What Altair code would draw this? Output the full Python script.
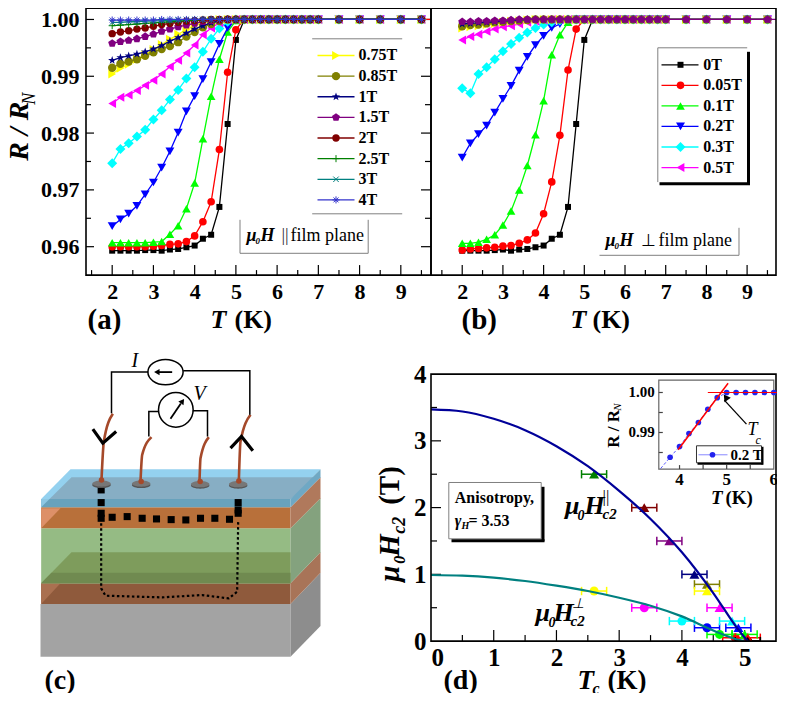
import altair as alt
import pandas as pd

FONT = "Liberation Serif"
W, H = 345, 267
OA = (90.5, 8.3); OB = (435.5, 8.3); OC = (90.5, 374.3); OD = (435.5, 374.3)

# ---------- data panels (a), (b) ----------
T_GRID = [2.0, 2.2, 2.4, 2.6, 2.8, 3.0, 3.2, 3.4, 3.6, 3.8, 4.0, 4.2, 4.4, 4.6, 4.8, 5.0, 5.2, 5.4, 5.6, 5.8,
          6.0, 6.2, 6.4, 6.6, 6.8, 7.0, 7.5, 8.0, 8.5, 9.0, 9.5]

A_0 = [.9593, .9593, .9593, .9593, .9594, .9594, .9593, .9595, .9596, .9599, .9602, .9614, .9621, .9670, .9816, .9964, .9999]
A_005 = [.9600, .9600, .9600, .9600, .9600, .9601, .9602, .9604, .9605, .9609, .9619, .9644, .9679, .9771, .9907, .9982]
A_01 = [.9607, .9607, .9607, .9607, .9607, .9608, .9609, .9622, .9637, .9667, .9712, .9790, .9865, .9930, .9978, .9998]
A_02 = [.9636, .9648, .9658, .9672, .9692, .9713, .9739, .9768, .9801, .9838, .9865, .9895, .9925, .9957, .9985, .9999]
A_03 = [.9747, .9772, .9782, .9794, .9806, .9824, .9840, .9859, .9876, .9896, .9916, .9943, .9966, .9984, .9996]
A_05 = [.9852, .9863, .9867, .9875, .9884, .9893, .9904, .9917, .9928, .9941, .9955, .9973, .9985, .9994, .9999]
A_075 = [.9904, .9914, .9921, .9930, .9938, .9947, .9956, .9965, .9974, .9982, .9989, .9994, .9998]
A_085 = [.9915, .9922, .9926, .9930, .9936, .9942, .9948, .9953, .9960, .9970, .9978, .9986, .9992, .9997]
A_1 = [.9928, .9933, .9936, .9939, .9943, .9948, .9954, .9962, .9968, .9976, .9983, .9989, .9994, .9998]
A_15 = [.9958, .9961, .9963, .9966, .9970, .9974, .9979, .9983, .9987, .9990, .9993, .9996, .9998, .9999]
A_2 = [.9975, .9978, .9980, .9983, .9985, .9988, .9991, .9993, .9995, .9997, .9998, .9999]
A_25 = [.9989, .9990, .9991, .9992, .9993, .9994, .9995, .9996, .9997, .9998, .9999]
A_3 = [.9995, .9995, .9996, .9996, .9997, .9997, .9998, .9998, .9999]
A_4 = [.9999, .9999, .9999, .9999, .9999, .9999]

B_0 = [.9593, .9593, .9593, .9593, .9594, .9595, .9593, .9595, .9596, .9599, .9602, .9614, .9621, .9670, .9816, .9964, .9999]
B_005 = [.9594, .9596, .9597, .9598, .9599, .9601, .9602, .9606, .9612, .9624, .9658, .9714, .9796, .9911, .9983]
B_01 = [.9606, .9606, .9608, .9613, .9621, .9638, .9663, .9700, .9743, .9797, .9857, .9938, .9973, .9995]
B_02 = [.9757, .9782, .9798, .9813, .9836, .9860, .9883, .9910, .9934, .9955, .9971, .9985, .9992, .9998]
B_03 = [.9879, .9870, .9904, .9916, .9930, .9944, .9957, .9968, .9977, .9985, .9991, .9995, .9998]
B_05 = [.9964, .9970, .9974, .9979, .9983, .9987, .9989, .9992, .9995, .9997, .9999]
B_075 = [.9985, .9987, .9989, .9991, .9993, .9995, .9997, .9998, .9999]
B_085 = [.9988, .9990, .9991, .9993, .9995, .9996, .9997, .9998, .9999]
B_1 = [.9992, .9993, .9994, .9995, .9996, .9997, .9998, .9999]
B_15 = [.9996, .9996, .9997, .9997, .9998, .9998, .9999]

STAR = "M0,-1.1L.26,-.36L1.05,-.34L.42,.14L.65,.89L0,.44L-.65,.89L-.42,.14L-1.05,-.34L-.26,-.36Z"
PENT = "M0,-1L.95,-.31L.59,.81L-.59,.81L-.95,-.31Z"
PLUS = "M-1,0L1,0M0,-1L0,1"
XSYM = "M-1,-1L1,1M-1,1L1,-1"
ASTR = "M-1,0L1,0M0,-1L0,1M-.7,-.7L.7,.7M-.7,.7L.7,-.7"

STYLES = {
    "0T": ("#000000", "square", 36, True),
    "0.05T": ("#ff0000", "circle", 58, True),
    "0.1T": ("#00ff00", "triangle-up", 75, True),
    "0.2T": ("#0000ff", "triangle-down", 80, True),
    "0.3T": ("#00ffff", "diamond", 100, True),
    "0.5T": ("#ff00ff", "triangle-left", 80, True),
    "0.75T": ("#ffff00", "triangle-right", 80, True),
    "0.85T": ("#808000", "circle", 70, True),
    "1T": ("#000080", STAR, 60, True),
    "1.5T": ("#800080", PENT, 70, True),
    "2T": ("#800000", "circle", 55, True),
    "2.5T": ("#008000", PLUS, 50, False),
    "3T": ("#008080", XSYM, 30, False),
    "4T": ("#3333cc", ASTR, 50, False),
}
A_SERIES = {"0T": A_0, "0.05T": A_005, "0.1T": A_01, "0.2T": A_02, "0.3T": A_03, "0.5T": A_05, "0.75T": A_075,
            "0.85T": A_085, "1T": A_1, "1.5T": A_15, "2T": A_2, "2.5T": A_25, "3T": A_3, "4T": A_4}
B_SERIES = {"0T": B_0, "0.05T": B_005, "0.1T": B_01, "0.2T": B_02, "0.3T": B_03, "0.5T": B_05, "0.75T": B_075,
            "0.85T": B_085, "1T": B_1, "1.5T": B_15}

# ---------- data panel (d) ----------
PAR_T = [2.6, 3.4, 3.8, 4.2, 4.4, 4.4, 4.6, 4.8, 4.9, 5.0, 5.05, 5.05]
PAR_H = [2.5, 2.0, 1.5, 1.0, 0.85, 0.75, 0.5, 0.3, 0.2, 0.1, 0.05, 0.0]
PAR_C = ["#008000", "#800000", "#800080", "#000080", "#808000", "#ffff00", "#ff00ff", "#00ffff", "#0000ff", "#00ff00", "#ff0000", "#000000"]
PERP_T = [2.6, 3.4, 4.0, 4.4, 4.6, 4.85, 5.05]
PERP_H = [0.75, 0.5, 0.3, 0.2, 0.1, 0.05, 0.0]
PERP_C = ["#ffff00", "#ff00ff", "#00ffff", "#0000ff", "#00ff00", "#ff0000", "#000000"]
CURVE_PAR_T = [0, .5, 1, 1.5, 2, 2.5, 3, 3.5, 4, 4.5, 4.9, 5.05]
CURVE_PAR_H = [3.47, 3.44, 3.33, 3.16, 2.92, 2.62, 2.25, 1.83, 1.33, .72, .17, 0]
CURVE_PERP_T = [0, .5, 1, 1.5, 2, 2.5, 3, 3.5, 4, 4.5, 4.9, 5.0]
CURVE_PERP_H = [.99, .98, .95, .90, .83, .75, .65, .53, .37, .16, .02, 0]
ERR = 0.2

INSET_T = [3.6, 3.8, 4.0, 4.2, 4.4, 4.6, 4.8, 5.0, 5.2, 5.4, 5.6, 5.8, 6.0]
INSET_R = [.9810, .9838, .9865, .98975, .9925, .9958, .9987, 1.0, 1.0, 1.0, 1.0, 1.0, 1.0]
FIT_T = [3.97, 5.03]
FIT_R = [.98567, 1.00233]
FLAT_T = [4.6, 6.2]
FLAT_R = [1.0, 1.0]
ARROW_T = [4.95, 5.42]
ARROW_R = [.9981, .9921]
INSET_XT = [4, 5, 6]
INSET_YT = [.99, 1.0]
INSET_YL = ["0.99", "1.00"]

ONE = pd.DataFrame({"k": [0]})
AXIS_OF = {}


def XE(f, s):
    return alt.X(f, scale=s, axis=AXIS_OF.get(id(s)))


def YE(f, s):
    return alt.Y(f, scale=s, axis=AXIS_OF.get(id(s)))


def text(s, X, Y, O, size=16, bold=True, italic=False, align="left", angle=0, color="#000"):
    kw = dict(font=FONT, fontSize=size, align=align, baseline="middle", color=color, angle=angle)
    if bold:
        kw["fontWeight"] = "bold"
    if italic:
        kw["fontStyle"] = "italic"
    return alt.Chart(pd.DataFrame({"t": [s]})).mark_text(**kw).encode(
        x=alt.value(X - O[0]), y=alt.value(Y - O[1]), text="t:N")


def pix_rule(x1, y1, x2, y2, O, color="#808080", w=1.0):
    return alt.Chart(ONE).mark_rule(color=color, strokeWidth=w).encode(
        x=alt.value(x1 - O[0]), x2=alt.value(x2 - O[0]), y=alt.value(y1 - O[1]), y2=alt.value(y2 - O[1]))


def pix_rect(x1, y1, x2, y2, O, stroke=None, fill=None, w=1.0):
    kw = {}
    if stroke:
        kw.update(stroke=stroke, strokeWidth=w)
    kw.update(fill=fill if fill else "transparent")
    return alt.Chart(ONE).mark_rect(**kw).encode(
        x=alt.value(x1 - O[0]), x2=alt.value(x2 - O[0]), y=alt.value(y1 - O[1]), y2=alt.value(y2 - O[1]))


def pix_symbol(x, y, O, color, shape, size, filled=True, w=1.0):
    return alt.Chart(ONE).mark_point(shape=shape, filled=filled, color=color, size=size, opacity=1, strokeWidth=w).encode(
        x=alt.value(x - O[0]), y=alt.value(y - O[1]))


def vticks(values, length, scale, top=H, color="#000"):
    return alt.Chart(pd.DataFrame({"v": values})).mark_rule(color=color, strokeWidth=1.2).encode(
        x=XE("v:Q", scale), y=alt.value(top), y2=alt.value(top - length))


def hticks(values, x0, length, scale, color="#000"):
    return alt.Chart(pd.DataFrame({"v": values})).mark_rule(color=color, strokeWidth=1.2).encode(
        y=YE("v:Q", scale), x=alt.value(x0), x2=alt.value(x0 + length))


def box():
    return alt.Chart(ONE).mark_rect(fill="transparent", stroke="#000", strokeWidth=1.6).encode(
        x=alt.value(0), x2=alt.value(W), y=alt.value(0), y2=alt.value(H))


def rt_panel(series, xdom, extend, show_y, right_ticks, left_ticks):
    xs = alt.Scale(domain=xdom, nice=False, zero=False)
    ys = alt.Scale(domain=[.955, 1.002], nice=False, zero=False)
    AXIS_OF[id(xs)] = alt.Axis(values=[2, 3, 4, 5, 6, 7, 8, 9], ticks=False, domain=False, grid=False, title=None,
                               labelFont=FONT, labelFontWeight="bold", labelFontSize=22, labelPadding=6,
                               labelColor="#000", format="d")
    AXIS_OF[id(ys)] = alt.Axis(values=[.96, .97, .98, .99, 1.0], ticks=False, domain=False, grid=False, title=None,
                               labelFont=FONT, labelFontWeight="bold", labelFontSize=22, labelPadding=7,
                               labelColor="#000", format=".2f") if show_y else None
    layers = [vticks([2, 3, 4, 5, 6, 7, 8, 9], 10, xs), vticks([1.5, 2.5, 3.5, 4.5, 5.5, 6.5, 7.5, 8.5, 9.5], 5, xs)]
    if left_ticks:
        layers.append(hticks([.96, .97, .98, .99, 1.0], 0, 8, ys))
        layers.append(hticks([.965, .975, .985, .995], 0, 5, ys))
    if right_ticks:
        layers.append(hticks([.96, .97, .98, .99, 1.0], W - 10, 10, ys))
        layers.append(hticks([.965, .975, .985, .995], W - 6, 6, ys))
    for name, vals in series.items():
        color, shape, size, filled = STYLES[name]
        Tv = list(T_GRID)
        Rv = list(vals) + [1.0] * (len(T_GRID) - len(vals))
        ldf = pd.DataFrame({"T": Tv + ([10.0] if name == extend else []), "R": Rv + ([1.0] if name == extend else [])})
        pdf = pd.DataFrame({"T": Tv, "R": Rv})
        layers.append(alt.Chart(ldf).mark_line(color=color, strokeWidth=1.3, clip=True).encode(
            x=XE("T:Q", xs), y=YE("R:Q", ys)))
        layers.append(alt.Chart(pdf).mark_point(shape=shape, filled=filled, color=color, size=size, opacity=1,
                                                strokeWidth=1.0, clip=True).encode(
            x=XE("T:Q", xs), y=YE("R:Q", ys)))
    layers.append(box())
    return layers


# ---------- panel (a) ----------
a_layers = rt_panel(A_SERIES, [1.365, 9.732], "0.05T", True, True, True)
a_layers += [pix_rule(316.7, 39, 406.7, 39, OA), pix_rule(316.7, 214, 406.7, 214, OA)]
A_LEG = ["0.75T", "0.85T", "1T", "1.5T", "2T", "2.5T", "3T", "4T"]
for i, n in enumerate(A_LEG):
    y = 55.7 + i * 20.63
    c_, s, sz, f = STYLES[n]
    a_layers += [pix_rule(322, y, 359, y, OA, color=c_, w=1.3), pix_symbol(340.5, y, OA, c_, s, sz, f),
                 text(n, 363, y, OA, size=16)]
a_layers += [pix_rule(244.5, 220, 244.5, 253.5, OA), pix_rule(244.5, 253.5, 372.7, 253.5, OA),
             pix_rule(372.7, 220, 372.7, 253.5, OA),
             text("μ", 251, 236.5, OA, size=18, italic=True), text("0", 260, 241, OA, size=9, italic=True),
             text("H", 265, 236.5, OA, size=18, italic=True), text("||", 286, 236.5, OA, size=18, bold=False, color="#333"),
             text("film plane", 295, 236.5, OA, size=18, bold=False)]
a_layers += [text("R / R", 24, 161, OA, size=28, italic=True, angle=270),
             text("N", 34, 105, OA, size=18, italic=True, bold=False, angle=270),
             text("(a)", 92, 320, OA, size=29), text("T", 215, 320, OA, size=26, italic=True),
             text("(K)", 239, 320, OA, size=26)]
a = alt.layer(*a_layers).properties(width=W, height=H)

# ---------- panel (b) ----------
b_layers = rt_panel(B_SERIES, [1.233, 9.71], "1.5T", False, False, False)
b_layers += [pix_rule(662.3, 48, 751.7, 48, OB), pix_rule(662.3, 48, 662.3, 182.3, OB),
             pix_rule(753, 52, 753, 185, OB, color="#000", w=3), pix_rule(664, 184, 754.5, 184, OB, color="#000", w=3)]
B_LEG = ["0T", "0.05T", "0.1T", "0.2T", "0.3T", "0.5T"]
for i, n in enumerate(B_LEG):
    y = 65 + i * 20.55
    c_, s, sz, f = STYLES[n]
    b_layers += [pix_rule(666, y, 703, y, OB, color=c_, w=1.3), pix_symbol(685, y, OB, c_, s, sz, f),
                 text(n, 707.7, y, OB, size=16)]
b_layers += [pix_rule(604, 255.5, 743.5, 255.5, OB), pix_rule(743.5, 228, 743.5, 255.5, OB),
             text("μ", 610, 241.5, OB, size=18, italic=True), text("0", 619, 246, OB, size=9, italic=True),
             text("H", 624, 241.5, OB, size=18, italic=True), text("⊥", 646, 241.5, OB, size=17, bold=False),
             text("film plane", 663, 241.5, OB, size=18, bold=False)]
b_layers += [text("(b)", 466, 320, OB, size=29), text("T", 575, 320, OB, size=26, italic=True),
             text("(K)", 597, 320, OB, size=26)]
b = alt.layer(*b_layers).properties(width=W, height=H)

# ---------- panel (c): schematic, in sketch units ----------
SX = alt.Scale(domain=[271.5, 1306.5], nice=False, zero=False)
SY = alt.Scale(domain=[888, 88], nice=False, zero=False)


def pv(color, xs, top, bot):
    return alt.Chart(pd.DataFrame({"x": xs, "a": top, "b": bot})).mark_area(color=color, orient="vertical", opacity=1).encode(
        x=XE("x:Q", SX), y=YE("a:Q", SY), y2="b:Q")


def ph(color, ys, left, right):
    return alt.Chart(pd.DataFrame({"y": ys, "a": left, "b": right})).mark_area(color=color, orient="horizontal", opacity=1).encode(
        y=YE("y:Q", SY), x=XE("a:Q", SX), x2="b:Q")


def ln(xs, ys, color="#000", w=1.5, dash=None, interp="linear", cap="butt"):
    kw = dict(color=color, strokeWidth=w, interpolate=interp, strokeCap=cap)
    if dash:
        kw["strokeDash"] = dash
    return alt.Chart(pd.DataFrame({"x": xs, "y": ys, "i": list(range(len(xs)))})).mark_line(**kw).encode(
        x=XE("x:Q", SX), y=YE("y:Q", SY), order="i:Q")


def sym(xs, ys, color, shape, size, filled=True, w=1.5, angle=None):
    kw = dict(shape=shape, color=color, size=size, filled=filled, strokeWidth=w, opacity=1)
    if angle is not None:
        kw["angle"] = angle
    return alt.Chart(pd.DataFrame({"x": xs, "y": ys})).mark_point(**kw).encode(
        x=XE("x:Q", SX), y=YE("y:Q", SY))


ELL = "M-1,0A1,.72 0 1,0 1,0A1,.72 0 1,0 -1,0Z"
PAD = "M-1,0A1,.34 0 1,0 1,0A1,.34 0 1,0 -1,0Z"
c_layers = [
    pv("#a3a3a3", [135, 885], [777, 777], [935, 935]),
    pv("#8d8d8d", [885, 975], [777, 683], [935, 843]),
    pv("#8f5a3c", [137, 885], [715, 715], [777, 777]),
    ph("#aa7050", [715, 777], [137, 137], [195, 137]),
    pv("#a87458", [885, 975], [715, 622], [777, 683]),
    pv("#95bb84", [137, 885], [550, 550], [715, 715]),
    pv("#84a27e", [885, 975], [550, 460], [715, 622]),
    ph("#7e9c5c", [622, 715], [228, 137], [885, 885]),
    ph("#708a50", [683, 715], [168, 137], [885, 885]),
    pv("#b8703a", [137, 885], [487, 487], [550, 550]),
    ph("#dd9068", [490, 550], [137, 137], [195, 137]),
    pv("#b0795c", [885, 975], [487, 397], [550, 460]),
    ph("#94d1ef", [373, 462], [225, 137], [975, 885]),
    ph("#87aec4", [397, 462], [228, 162], [975, 885]),
    pv("#68a2bc", [137, 885], [462, 462], [487, 487]),
    ph("#8dc8e4", [462, 487], [137, 137], [162, 137]),
    pv("#6fa8c4", [885, 975], [462, 373], [487, 397]),
    ln([317, 317, 330, 500, 620, 700, 725, 728], [535, 730, 752, 757, 750, 760, 740, 530], w=2.2, dash=[2.5, 2.5]),
    sym([317, 317, 317, 317, 728, 728, 728, 350, 395, 440, 483, 527, 571, 615, 658, 702],
        [435, 473, 505, 520, 473, 505, 495, 517, 515, 520, 522, 524, 525, 520, 520, 523], "#000", "square", 50),
    sym([318, 437, 614, 728], [420, 420, 422, 422], "#555555", PAD, 340),
    sym([318, 437, 614, 728], [416, 416, 418, 418], "#777777", PAD, 340),
    ln([352, 325, 318], [207, 290, 405], color="#a5492a", w=2.6, interp="monotone"),
    ln([468, 440, 435], [277, 330, 410], color="#a5492a", w=2.6, interp="monotone"),
    ln([640, 615, 612], [277, 340, 410], color="#a5492a", w=2.6, interp="monotone"),
    ln([765, 735, 730], [210, 290, 410], color="#a5492a", w=2.6, interp="monotone"),
    sym([318, 437, 614, 730], [405, 410, 410, 408], "#a5492a", "circle", 30),
    ln([348, 348, 458], [205, 82, 82]),
    ln([563, 763, 763], [78, 78, 210]),
    ln([490, 460, 460], [200, 200, 275]),
    ln([592, 636, 636], [198, 198, 275]),
    ln([292, 322, 362], [253, 295, 260], w=3.2),
    ln([705, 738, 772], [310, 275, 318], w=3.2),
    sym([510], [82], "#000", ELL, 1240, filled=False, w=1.5),
    sym([541], [195], "#000", "circle", 1200, filled=False, w=1.5),
    ln([530, 490], [82, 82], w=1.8),
    sym([484], [82], "#000", "triangle-left", 40),
    ln([525, 556], [222, 176], w=1.8),
    sym([561], [169], "#000", "triangle-up", 40, angle=35),
    text("I", 136, 361, OC, size=20, bold=False, italic=True),
    text("V", 198, 394, OC, size=20, bold=False, italic=True),
    text("(c)", 49, 681, OC, size=28),
]
c = alt.layer(*c_layers).properties(width=W, height=H)

# ---------- panel (d) ----------
DX = alt.Scale(domain=[0, 5.5], nice=False, zero=False)
DY = alt.Scale(domain=[0, 4], nice=False, zero=False)
AXIS_OF[id(DX)] = alt.Axis(values=[0, 1, 2, 3, 4, 5], ticks=False, domain=False, grid=False, title=None, labelFont=FONT,
                           labelFontWeight="bold", labelFontSize=25, labelPadding=4, labelColor="#000", format="d")
AXIS_OF[id(DY)] = alt.Axis(values=[0, 1, 2, 3, 4], ticks=False, domain=False, grid=False, title=None, labelFont=FONT,
                           labelFontWeight="bold", labelFontSize=25, labelPadding=5, labelColor="#000", format="d")
par = pd.DataFrame({"T": PAR_T, "H": PAR_H, "c": PAR_C})
perp = pd.DataFrame({"T": PERP_T, "H": PERP_H, "c": PERP_C})
for df in (par, perp):
    df["lo"] = df["T"] - ERR
    df["hi"] = df["T"] + ERR
CAP = "M0,-1L0,1"


def d_points(df, shape, size):
    col = alt.Color("c:N", scale=None)
    return [
        alt.Chart(df).mark_rule(strokeWidth=1.5, clip=True).encode(x=XE("lo:Q", DX), x2="hi:Q", y=YE("H:Q", DY), color=col),
        alt.Chart(df).mark_point(shape=CAP, filled=False, size=70, strokeWidth=1.5, opacity=1, clip=True).encode(
            x=XE("lo:Q", DX), y=YE("H:Q", DY), color=col),
        alt.Chart(df).mark_point(shape=CAP, filled=False, size=70, strokeWidth=1.5, opacity=1, clip=True).encode(
            x=XE("hi:Q", DX), y=YE("H:Q", DY), color=col),
        alt.Chart(df).mark_point(shape=shape, filled=True, size=size, opacity=1, clip=True).encode(
            x=XE("T:Q", DX), y=YE("H:Q", DY), color=col),
    ]


main = [vticks([1, 2, 3, 4, 5], 11, DX), vticks([.5, 1.5, 2.5, 3.5, 4.5], 6, DX),
        hticks([1, 2, 3], 0, 10, DY), hticks([.5, 1.5, 2.5, 3.5], 0, 6, DY)]
main += d_points(perp, "circle", 80) + d_points(par, "triangle-up", 100)
main.append(alt.Chart(pd.DataFrame({"T": CURVE_PAR_T, "H": CURVE_PAR_H})).mark_line(
    color="#000099", strokeWidth=2.2, interpolate="monotone", clip=True).encode(x=XE("T:Q", DX), y=YE("H:Q", DY)))
main.append(alt.Chart(pd.DataFrame({"T": CURVE_PERP_T, "H": CURVE_PERP_H})).mark_line(
    color="#008080", strokeWidth=2.2, interpolate="monotone", clip=True).encode(x=XE("T:Q", DX), y=YE("H:Q", DY)))
main.append(box())
main += [
    pix_rect(453.3, 482.7, 545.7, 539, OD, stroke="#808080", fill="#ffffff"),
    pix_rule(547.5, 487, 547.5, 541.5, OD, color="#000", w=3),
    pix_rule(456, 541, 549, 541, OD, color="#000", w=3),
    text("Anisotropy,", 459.3, 498, OD, size=16),
    text("γ", 459.3, 521, OD, size=16, italic=True), text("H", 466, 526, OD, size=10, italic=True),
    text("= 3.53", 473, 521, OD, size=16),
    text("μ", 569.5, 506, OD, size=26, italic=True), text("0", 582, 516, OD, size=14, italic=True),
    text("H", 589, 506, OD, size=26, italic=True), text("c2", 607, 514, OD, size=15, italic=True),
    text("||", 607, 497, OD, size=17, bold=False),
    text("μ", 540, 613, OD, size=26, italic=True), text("0", 553, 623, OD, size=14, italic=True),
    text("H", 558, 613, OD, size=26, italic=True), text("c2", 575, 621, OD, size=15, italic=True),
    text("⊥", 577, 604, OD, size=14, bold=False, italic=True),
    text("(d)", 448, 681, OD, size=28),
    text("T", 582, 681, OD, size=27, italic=True), text("c", 597, 689, OD, size=16, italic=True),
    text("(K)", 612, 681, OD, size=27),
    text("μ", 395, 582, OD, size=29, italic=True, angle=270), text("0", 405, 564, OD, size=16, italic=True, angle=270),
    text("H", 395, 557, OD, size=29, italic=True, angle=270), text("c2", 405, 534, OD, size=18, italic=True, angle=270),
    text("(T)", 395, 505, OD, size=29, angle=270),
]
main_layer = alt.layer(*main)

IL, IR = 663.3 - OD[0], 778.3 - OD[0]
IX = alt.Scale(domain=[3.56, 6.0], range=[IL, IR], nice=False, zero=False)
IY = alt.Scale(domain=[.98085, 1.0031], range=[95, 6], nice=False, zero=False)
inset = [
    pix_rect(663.3, 380.3, 778.3, 469.3, OD, stroke="#666666", w=1.2),
    vticks([4, 4.5, 5, 5.5], 4, IX, top=95, color="#444"),
    hticks([.985, .99, .995, 1.0], IL, 4, IY, color="#444"),
    alt.Chart(pd.DataFrame({"v": INSET_XT})).mark_text(font=FONT, fontWeight="bold", fontSize=17, baseline="middle", color="#000").encode(
        x=XE("v:Q", IX), y=alt.value(106), text="v:N"),
    alt.Chart(pd.DataFrame({"v": INSET_YT, "s": INSET_YL})).mark_text(font=FONT, fontWeight="bold", fontSize=15, align="right", baseline="middle", color="#000").encode(
        y=YE("v:Q", IY), x=alt.value(IL - 4), text="s:N"),
    alt.Chart(pd.DataFrame({"T": INSET_T, "R": INSET_R})).mark_line(
        color="#3333ff", strokeWidth=0.8, strokeDash=[3, 2]).encode(x=XE("T:Q", IX), y=YE("R:Q", IY)),
    alt.Chart(pd.DataFrame({"T": INSET_T[1:], "R": INSET_R[1:]})).mark_point(
        shape="circle", filled=True, color="#2222ee", size=32, opacity=1).encode(x=XE("T:Q", IX), y=YE("R:Q", IY)),
    alt.Chart(pd.DataFrame({"T": FIT_T, "R": FIT_R})).mark_line(color="#ff0000", strokeWidth=1.5).encode(
        x=XE("T:Q", IX), y=YE("R:Q", IY)),
    alt.Chart(pd.DataFrame({"T": FLAT_T, "R": FLAT_R})).mark_line(color="#ff0000", strokeWidth=1.2).encode(
        x=XE("T:Q", IX), y=YE("R:Q", IY)),
    alt.Chart(pd.DataFrame({"T": ARROW_T, "R": ARROW_R})).mark_line(color="#000", strokeWidth=1.3).encode(
        x=XE("T:Q", IX), y=YE("R:Q", IY)),
    alt.Chart(pd.DataFrame({"T": [4.98], "R": [.9988]})).mark_point(
        shape="triangle-up", filled=True, color="#000", size=60, angle=325, opacity=1).encode(
        x=XE("T:Q", IX), y=YE("R:Q", IY)),
    pix_rect(701, 446, 766, 463, OD, stroke="#333333", w=1),
    pix_rule(702, 464, 767, 464, OD, color="#000", w=2),
    pix_rule(767, 447, 767, 465, OD, color="#000", w=2),
    pix_rule(703, 455, 732, 455, OD, color="#8888ff", w=1),
    pix_symbol(717, 455, OD, "#2222ee", "circle", 32),
    text("0.2 T", 735, 455, OD, size=15),
    text("R / R", 619, 448, OD, size=17, angle=270),
    text("N", 623, 411, OD, size=11, italic=True, bold=False, angle=270),
    text("T", 715.5, 498, OD, size=19, italic=True), text("(K)", 730, 498, OD, size=19),
    text("T", 752, 430, OD, size=18, bold=False, italic=True), text("c", 760, 440, OD, size=12, bold=False, italic=True),
]
inset_layer = alt.layer(*inset)
d = alt.layer(main_layer, inset_layer).resolve_scale(x="independent", y="independent").properties(width=W, height=H)

chart = alt.concat(a, b, c, d, columns=2, spacing={"row": 99, "column": 0}, bounds="flush").properties(
    padding={"left": -3, "top": -0.9, "right": -9, "bottom": -4}).configure_view(stroke=None)

chart.save("out.html", embed_options={"renderer": "svg", "actions": False})
